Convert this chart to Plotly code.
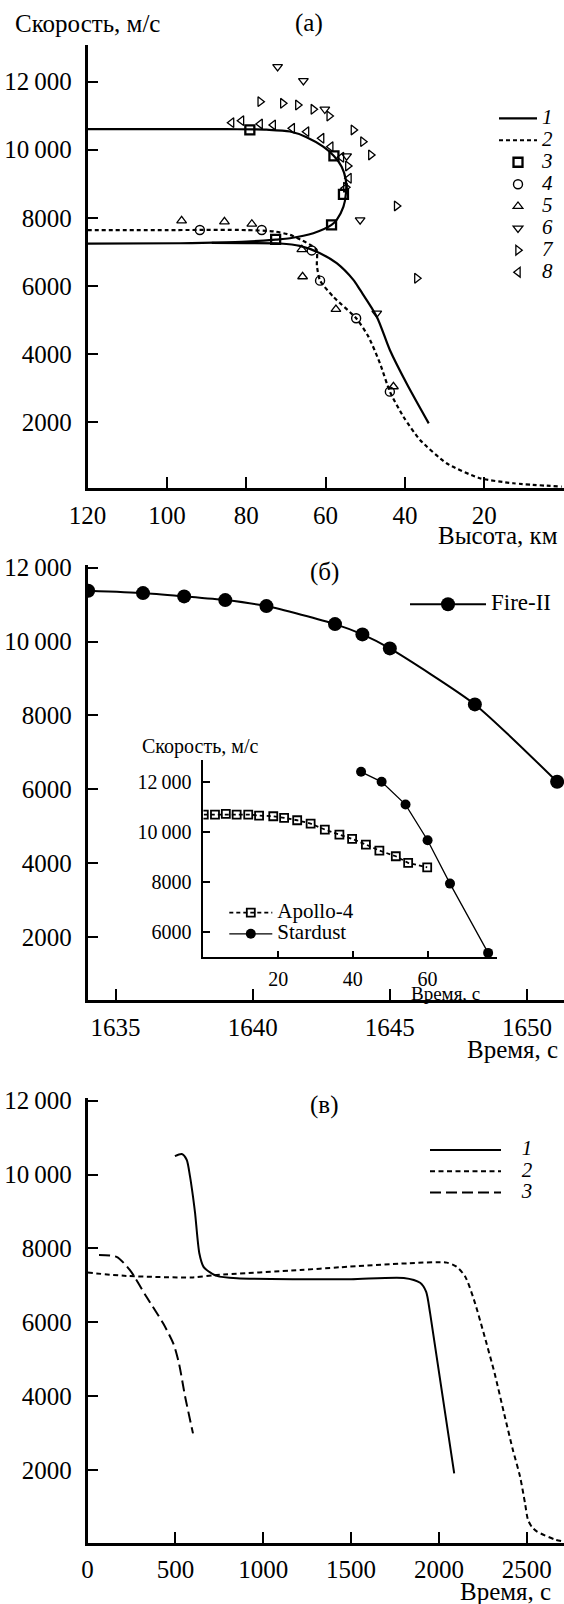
import plotly.graph_objects as go

W, H = 564, 1604
SERIF = "Liberation Serif"


def px(x):
    return x / W


def py(y):
    return 1 - y / H


# ---------------- Panel (а): velocity vs altitude ----------------
a1_skip_h = [120, 100, 85, 78, 74.9, 69.0, 64.8, 60.6, 57.9, 55.95, 54.9, 54.87, 55.5, 57.2, 58.5, 63.1, 69.0, 72.6, 79.9, 88.3, 96.7, 120]
a1_skip_v = [10605, 10605, 10603, 10598, 10590, 10535, 10370, 10090, 9817, 9503, 9112, 8721, 8328, 7937, 7790, 7546, 7399, 7360, 7299, 7270, 7252, 7240]
a1_entry_h = [88.7, 80, 71.5, 66.5, 61.4, 57.2, 53.0, 51.3, 47.1, 43.8, 39.6, 34.0]
a1_entry_v = [7262, 7258, 7245, 7175, 6960, 6665, 6175, 5880, 5096, 4117, 3139, 1960]
a2_h = [120, 100, 80, 73.0, 69.0, 65.8, 63.5, 62.2, 62.2, 61.4, 58.1, 52.3, 49.2, 46.3, 43.8, 40.4, 36.2, 29.5, 21.1, 12.7, 0.5]
a2_v = [7640, 7640, 7640, 7600, 7500, 7330, 7180, 7050, 6600, 6154, 5684, 5049, 4508, 3726, 2893, 2158, 1473, 788, 347, 200, 100]
a3_h = [79.1, 57.9, 55.5, 58.5, 72.6]
a3_v = [10581, 9817, 8690, 7790, 7369]
a4_h = [91.7, 76.1, 63.5, 61.4, 52.3, 43.8]
a4_v = [7643, 7643, 7041, 6153, 5049, 2892]
a5_h = [96.3, 85.5, 78.6, 66.0, 65.8, 57.4, 42.9]
a5_v = [7916, 7887, 7819, 7070, 6271, 5313, 3039]
a6_h = [72.1, 65.6, 60.2, 54.7, 51.3, 47.1]
a6_v = [12441, 12029, 11189, 9817, 7937, 5195]
a7_h = [76.5, 70.8, 67.0, 63.1, 59.1, 53.0, 50.6, 48.6, 54.4, 54.9, 42.1, 37.0]
a7_v = [11412, 11365, 11315, 11189, 10992, 10581, 10237, 9846, 9523, 8897, 8348, 6224]
a8_h = [83.7, 81.2, 76.5, 73.2, 68.4, 64.8, 61.0, 58.7, 56.0, 54.1, 55.1]
a8_v = [10795, 10854, 10757, 10728, 10631, 10531, 10337, 10090, 9779, 9162, 8868]

# ---------------- Panel (б): Fire-II, inset Apollo-4 / Stardust ----------------
fire_t = [1634.0, 1636.0, 1637.5, 1639.0, 1640.5, 1643.0, 1644.0, 1645.0, 1648.1, 1651.1]
fire_v = [11372, 11310, 11220, 11120, 10958, 10471, 10192, 9813, 8298, 6204]
apollo_t = [0.1, 3.1, 6.0, 8.9, 12.0, 14.9, 18.7, 21.6, 25.1, 28.7, 32.5, 36.4, 39.8, 43.5, 47.1, 51.5, 54.8, 59.9]
apollo_v = [10695, 10695, 10723, 10695, 10695, 10655, 10627, 10563, 10468, 10336, 10097, 9897, 9726, 9498, 9259, 9032, 8768, 8593]
stardust_t = [42.2, 47.7, 54.1, 60.0, 66.0, 76.2]
stardust_v = [12399, 12000, 11094, 9670, 7942, 5180]

# ---------------- Panel (в): velocity vs time ----------------
c1_t = [497, 536, 564, 583, 600, 612, 636, 660, 678, 735, 850, 1210, 1500, 1800, 1893, 1927, 1950, 2087]
c1_v = [10500, 10555, 10400, 9950, 9400, 8950, 7870, 7500, 7415, 7255, 7190, 7165, 7165, 7200, 7070, 6830, 6240, 1910]
c2_t = [0, 220, 600, 735, 1210, 1440, 1820, 2045, 2100, 2150, 2200, 2255, 2317, 2370, 2420, 2462, 2490, 2507, 2530, 2559, 2662, 2712]
c2_v = [7345, 7255, 7215, 7280, 7415, 7490, 7595, 7615, 7505, 7235, 6600, 5700, 4618, 3550, 2560, 1818, 1100, 650, 450, 330, 113, 60]
c3_t = [65, 165, 240, 335, 430, 490, 520, 555, 600]
c3_v = [7820, 7770, 7420, 6690, 5970, 5400, 4890, 3990, 2990]

v_ticks = [2000, 4000, 6000, 8000, 10000, 12000]
v_text = ["2000", "4000", "6000", "8000", "10\u2009000", "12\u2009000"]
inset_v_ticks = [6000, 8000, 10000, 12000]
inset_v_text = ["6000", "8000", "10\u2009000", "12\u2009000"]
a_x_ticks = [120, 100, 80, 60, 40, 20]
b_x_ticks = [1635, 1640, 1645, 1650]
c_x_ticks = [0, 500, 1000, 1500, 2000, 2500]
inset_x_ticks = [20, 40, 60]


def lbl(s, size=21):
    return f"<span style='font-size:{size}px'>{s}</span>"


fig = go.Figure()

# panel (а)
fig.add_trace(go.Scatter(x=a1_skip_h, y=a1_skip_v, mode="lines", line=dict(color="black", width=2.2, shape="spline", smoothing=0.8),
                         name=lbl("<i>1</i>"), legend="legend", xaxis="x", yaxis="y"))
fig.add_trace(go.Scatter(x=a1_entry_h, y=a1_entry_v, mode="lines", line=dict(color="black", width=2.2, shape="spline", smoothing=0.8),
                         showlegend=False, xaxis="x", yaxis="y"))
fig.add_trace(go.Scatter(x=a2_h, y=a2_v, mode="lines", line=dict(color="black", width=2.2, dash="4px,3px", shape="spline", smoothing=0.6),
                         name=lbl("<i>2</i>"), legend="legend", xaxis="x", yaxis="y"))
mk = [
    (a3_h, a3_v, "square-open", 9, 2.3, "3"),
    (a4_h, a4_v, "circle-open", 9, 1.4, "4"),
    (a5_h, a5_v, "triangle-up-open", 8.5, 1.3, "5"),
    (a6_h, a6_v, "triangle-down-open", 8.5, 1.3, "6"),
    (a7_h, a7_v, "triangle-right-open", 8.5, 1.3, "7"),
    (a8_h, a8_v, "triangle-left-open", 8.5, 1.3, "8"),
]
for hx, vy, sym, sz, lw, nm in mk:
    fig.add_trace(go.Scatter(x=hx, y=vy, mode="markers",
                             marker=dict(symbol=sym, size=sz, color="black", line=dict(color="black", width=lw)),
                             name=lbl(f"<i>{nm}</i>"), legend="legend", xaxis="x", yaxis="y"))

# panel (б)
fig.add_trace(go.Scatter(x=fire_t, y=fire_v, mode="lines+markers", line=dict(color="black", width=2, shape="spline", smoothing=0.6),
                         marker=dict(symbol="circle", size=14, color="black"),
                         name=lbl("Fire-II", 23), legend="legend2", xaxis="x2", yaxis="y2"))
fig.add_trace(go.Scatter(x=apollo_t, y=apollo_v, mode="lines+markers", line=dict(color="black", width=1.8, dash="4px,3px"),
                         marker=dict(symbol="square-open", size=8, color="black", line=dict(color="black", width=1.8)),
                         name=lbl("Apollo-4", 21), legend="legend3", xaxis="x4", yaxis="y4"))
fig.add_trace(go.Scatter(x=stardust_t, y=stardust_v, mode="lines+markers", line=dict(color="black", width=1.3),
                         marker=dict(symbol="circle", size=10, color="black"),
                         name=lbl("Stardust", 21), legend="legend3", xaxis="x4", yaxis="y4"))

# panel (в)
fig.add_trace(go.Scatter(x=c1_t, y=c1_v, mode="lines", line=dict(color="black", width=2, shape="spline", smoothing=0.7),
                         name=lbl("\u00a0\u00a0\u00a0<i>1</i>"), legend="legend4", xaxis="x3", yaxis="y3"))
fig.add_trace(go.Scatter(x=c2_t, y=c2_v, mode="lines", line=dict(color="black", width=2, dash="5px,3.5px", shape="spline", smoothing=0.7),
                         name=lbl("\u00a0\u00a0\u00a0<i>2</i>"), legend="legend4", xaxis="x3", yaxis="y3"))
fig.add_trace(go.Scatter(x=c3_t, y=c3_v, mode="lines", line=dict(color="black", width=2, dash="11px,5px", shape="spline", smoothing=0.7),
                         name=lbl("\u00a0\u00a0\u00a0<i>3</i>"), legend="legend4", xaxis="x3", yaxis="y3"))

tickfont = dict(family=SERIF, size=25, color="black")
small_tickfont = dict(family=SERIF, size=20, color="black")


def ax(domain, rng, tickvals, ticktext=None, anchor=None, font=tickfont, lw=2.5, tl=11, tw=2, standoff=8):
    d = dict(domain=domain, range=rng, tickmode="array", tickvals=tickvals, showline=True, linecolor="black",
             linewidth=lw, ticks="inside", ticklen=tl, tickwidth=tw, tickcolor="black", showgrid=False,
             zeroline=False, tickfont=font, anchor=anchor, ticklabelstandoff=standoff, fixedrange=True,
             automargin=False)
    if ticktext is not None:
        d["ticktext"] = ticktext
    return d


legend_common = dict(xanchor="left", yanchor="top", bgcolor="rgba(0,0,0,0)", borderwidth=0,
                     tracegroupgap=0, traceorder="normal")
lfont = dict(family=SERIF, size=14, color="black")

annotations = [
    dict(text="Скорость, м/с", x=px(12.6), y=py(23.3), xanchor="left", yanchor="middle", font=dict(size=25)),
    dict(text="(а)", x=px(308.5), y=py(23.3), xanchor="center", yanchor="middle", font=dict(size=25)),
    dict(text="Высота, км", x=px(560.4), y=py(535), xanchor="right", yanchor="middle", font=dict(size=25)),
    dict(text="(б)", x=px(324.3), y=py(571.7), xanchor="center", yanchor="middle", font=dict(size=25)),
    dict(text="Время, с", x=px(560), y=py(1049), xanchor="right", yanchor="middle", font=dict(size=25)),
    dict(text="Скорость, м/с", x=px(139.8), y=py(746.5), xanchor="left", yanchor="middle", font=dict(size=20)),
    dict(text="Время, с", x=px(482), y=py(993), xanchor="right", yanchor="middle", font=dict(size=19)),
    dict(text="(в)", x=px(324.3), y=py(1105), xanchor="center", yanchor="middle", font=dict(size=25)),
    dict(text="Время, с", x=px(553), y=py(1591.5), xanchor="right", yanchor="middle", font=dict(size=25)),
]
for a in annotations:
    a.update(xref="paper", yref="paper", showarrow=False)
    a["font"].update(family=SERIF, color="black")

fig.update_layout(
    width=W, height=H, margin=dict(l=0, r=0, t=0, b=0, pad=0, autoexpand=False), autosize=False,
    paper_bgcolor="white", plot_bgcolor="rgba(0,0,0,0)",
    font=dict(family=SERIF, color="black"),
    xaxis=ax([px(87.6), 1], [120, -0.1], a_x_ticks, anchor="y", standoff=3),
    yaxis=ax([py(488), py(45)], [60, 13078], v_ticks, v_text, anchor="x"),
    xaxis2=ax([px(87.6), 1], [1633.98, 1651.35], b_x_ticks, anchor="y2", standoff=3),
    yaxis2=ax([py(1000), py(565)], [300, 12070], v_ticks, v_text, anchor="x2"),
    xaxis3=ax([px(87.6), 1], [0, 2712], c_x_ticks, anchor="y3", standoff=3),
    yaxis3=ax([py(1542.7), py(1098.3)], [30, 12065], v_ticks, v_text, anchor="x3"),
    xaxis4=ax([px(203.4), px(496.7)], [0, 78.5], inset_x_ticks, anchor="y4", font=small_tickfont, lw=1.7, tl=7, tw=1.5, standoff=3),
    yaxis4=ax([py(957.4), py(760)], [5000, 12870], inset_v_ticks, inset_v_text, anchor="x4", font=small_tickfont, lw=1.7, tl=7, tw=1.5, standoff=6),
    legend=dict(x=px(494), y=py(102.3), itemwidth=38, font=dict(lfont, size=14.6), **legend_common),
    legend2=dict(x=px(405), y=py(588.7), itemwidth=76, font=lfont, **legend_common),
    legend3=dict(x=px(224.3), y=py(897), itemwidth=43, font=lfont, **legend_common),
    legend4=dict(x=px(425), y=py(1134.4), itemwidth=71, font=lfont, **legend_common),
    annotations=annotations,
    showlegend=True,
)

fig.write_html("out.html")
